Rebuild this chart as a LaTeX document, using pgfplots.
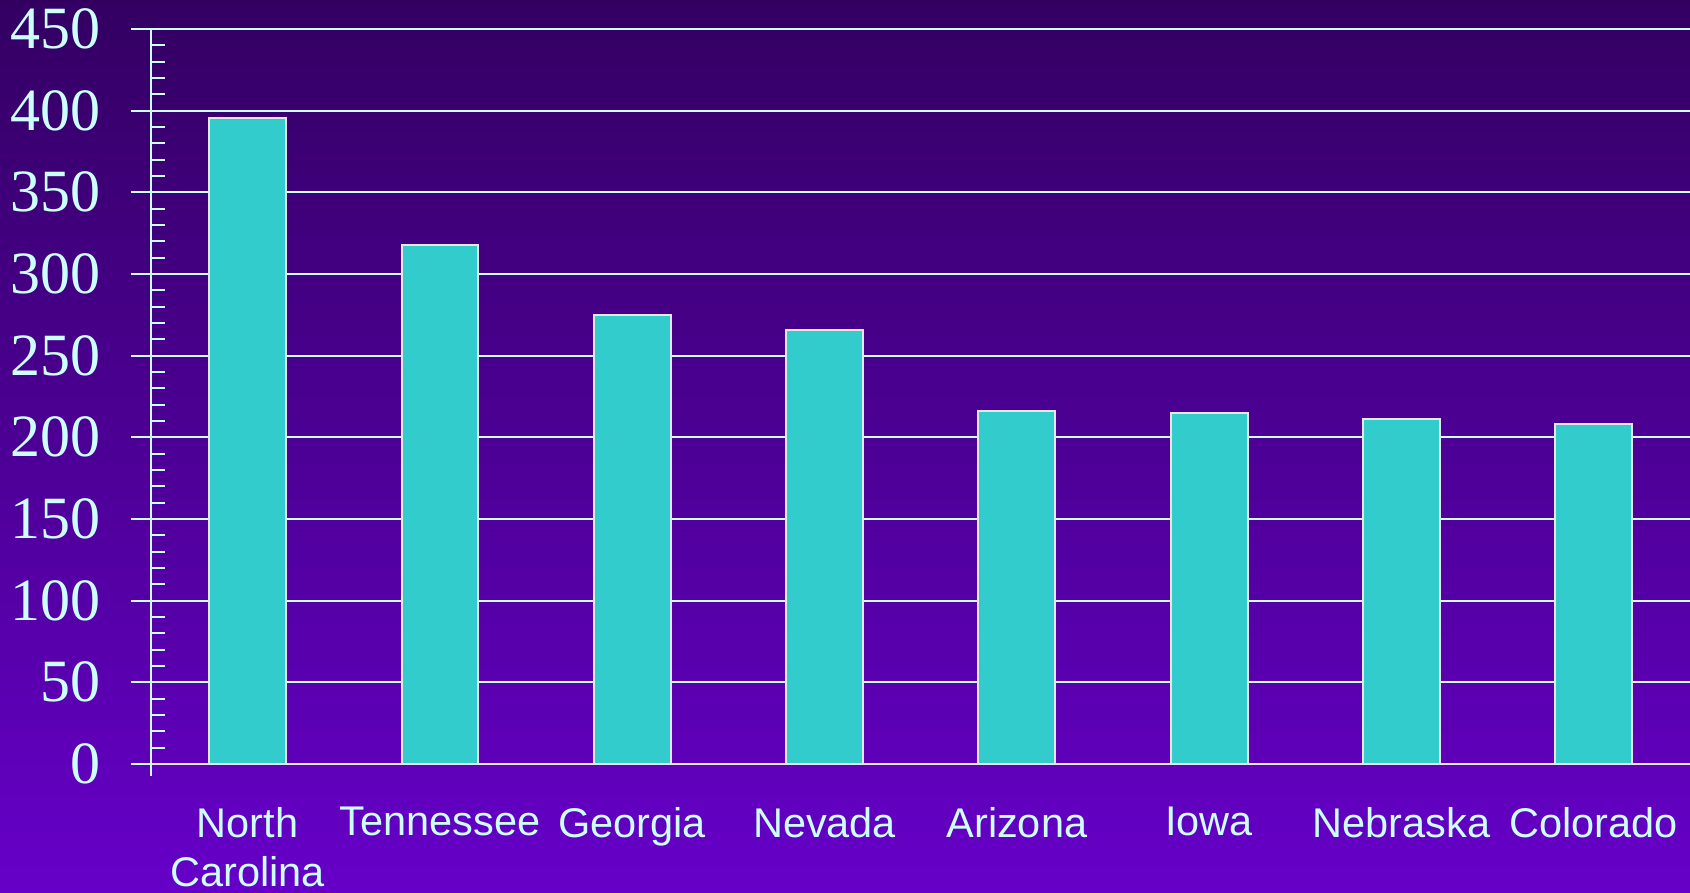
\documentclass[border=0pt]{standalone}
\usepackage{fontspec}
\setmainfont{Liberation Serif}
\newfontfamily\arial{Liberation Sans}
\usepackage{pgfplots}
\pgfplotsset{compat=1.18}
\definecolor{bgtop}{RGB}{51,0,98}
\definecolor{bgbot}{RGB}{102,0,200}
\definecolor{gridc}{RGB}{204,255,255}
\definecolor{barc}{RGB}{51,204,204}
\definecolor{barl}{RGB}{230,230,230}
\definecolor{labc}{RGB}{204,255,255}
\begin{document}
\begin{tikzpicture}
\shade[top color=bgtop, bottom color=bgbot] (0pt,0pt) rectangle (1690pt,892pt);
\begin{axis}[
  at={(151.5pt,128pt)}, anchor=south west,
  scale only axis, width=1538.5pt, height=735pt,
  xmin=-0.5, xmax=7.5, ymin=0, ymax=450,
  axis lines=left,
  axis line style={-, line width=2pt},
  x axis line style={draw=barl},
  y axis line style={draw=gridc},
  xtick=data,
  xticklabels={{North\\Carolina},Tennessee,Georgia,Nevada,Arizona,Iowa,Nebraska,Colorado},
  x tick style={draw=none},
  xticklabel style={font=\arial\fontsize{41.5}{49}\selectfont, text=labc, align=center, anchor=north, inner sep=0pt, yshift=-43pt},
  ytick={0,50,...,450},
  minor y tick num=4,
  tick align=inside,
  y tick style={draw=gridc, line width=2pt},
  major tick length=13pt, minor tick length=13pt,
  extra y ticks={0,50,...,450},
  extra y tick labels={},
  extra y tick style={tick align=outside, major tick length=20pt, grid=none},
  ymajorgrids,
  grid style={draw=gridc, line width=2.2pt},
  /pgf/number format/assume math mode=true,
  yticklabel style={font=\fontsize{60}{62}\selectfont, text=labc, anchor=east, inner sep=0pt, xshift=-51pt},
  clip=false,
]
\addplot[ybar, bar width=0.4, fill=barc, draw=barl, line width=2pt] coordinates {
  (0,395.5) (1,318) (2,275) (3,266) (4,216) (5,215) (6,211) (7,208)
};
\draw[gridc, line width=2pt] (rel axis cs:0,0) -- ++(0pt,-12pt);
\end{axis}
\pgfresetboundingbox
\path[use as bounding box] (0pt,0pt) rectangle (1690pt,892pt);
\end{tikzpicture}
\end{document}
